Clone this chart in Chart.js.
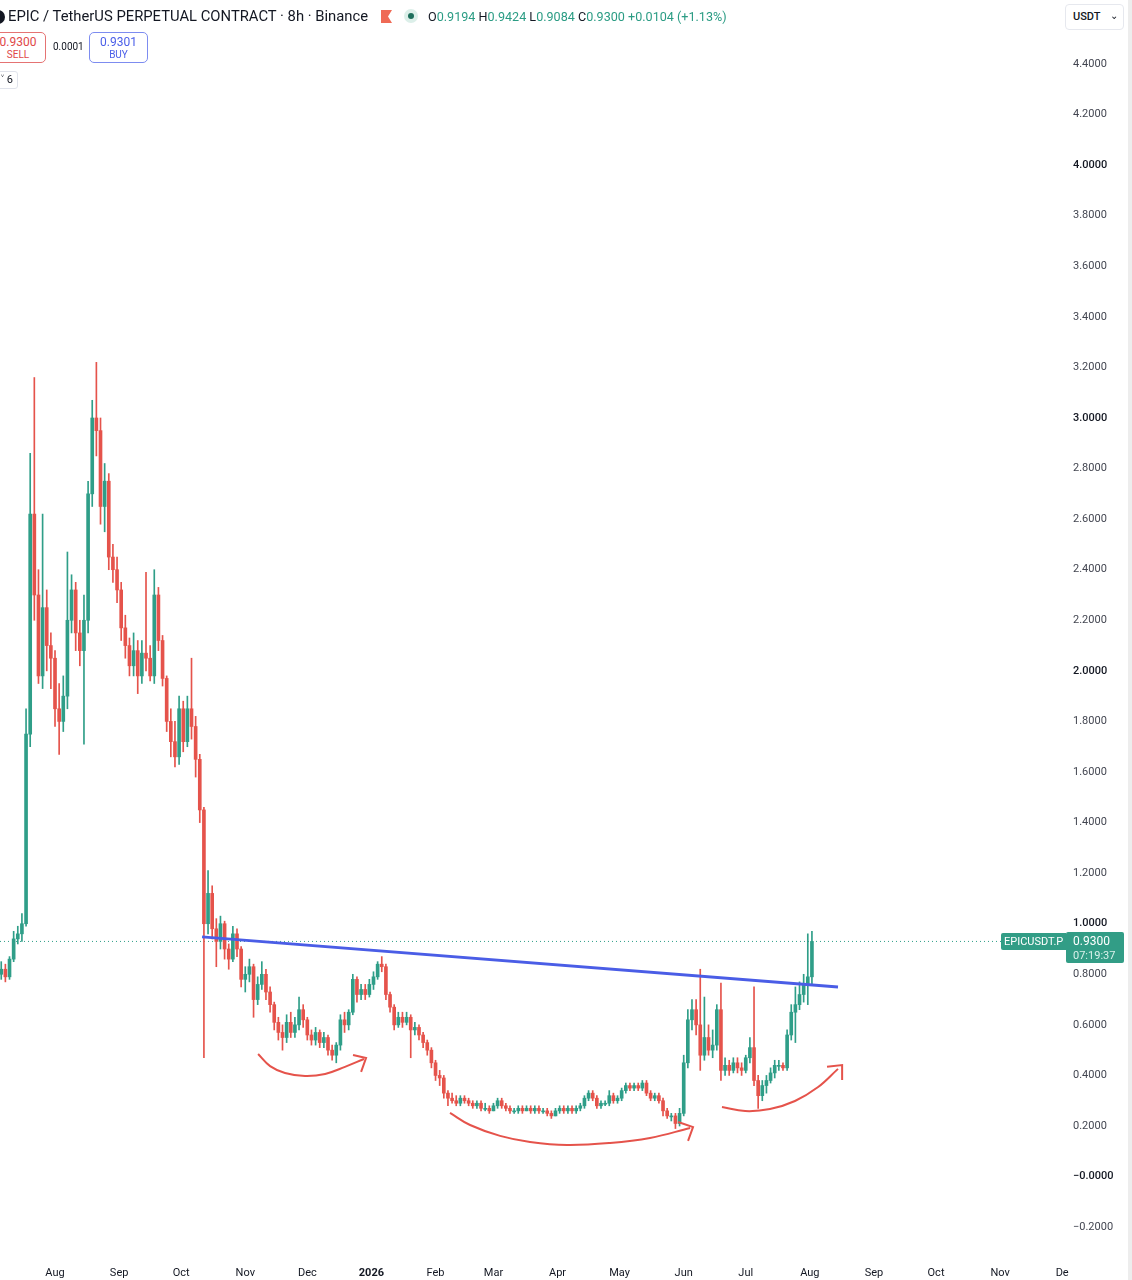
<!DOCTYPE html>
<html>
<head>
<meta charset="utf-8">
<script src="https://cdn.jsdelivr.net/npm/chart.js@4.4.1/dist/chart.umd.min.js"></script>
<style>
  html, body { margin:0; padding:0; background:#fff; }
  body { width:1132px; height:1280px; overflow:hidden; font-family: Roboto, "Noto Sans", sans-serif; color:#131722; }
  #wrap { position:relative; width:1132px; height:1280px; overflow:hidden; }
  #c { position:absolute; left:0; top:0; }
  .ov { position:absolute; white-space:nowrap; }
  .box { position:absolute; box-sizing:border-box; border-radius:5px; background:#fff; text-align:center; }
</style>
</head>
<body>
<div id="wrap">
  <canvas id="c" width="1132" height="1280"></canvas>

  <!-- header legend -->
  <div class="ov" style="left:-9px;top:10px;width:14px;height:14px;border-radius:50%;background:#131722"></div>
  <div class="ov" style="left:8px;top:7px;font-size:14.8px;line-height:18px">EPIC / TetherUS PERPETUAL CONTRACT · 8h · Binance</div>
  <svg class="ov" style="left:381px;top:10px" width="11" height="13"><path d="M0 0 H11 L7 6.5 L11 13 H0 Z" fill="#ef6a55"/></svg>
  <div class="ov" style="left:404px;top:9px;width:14px;height:14px;border-radius:50%;background:#dcefe9"></div>
  <div class="ov" style="left:408px;top:13px;width:6px;height:6px;border-radius:50%;background:#1e6f5c"></div>
  <div class="ov" style="left:428px;top:9px;font-size:12.6px;line-height:16px;color:#2b9c84">
    <span style="color:#131722">O</span>0.9194 <span style="color:#131722">H</span>0.9424 <span style="color:#131722">L</span>0.9084 <span style="color:#131722">C</span>0.9300 +0.0104 (+1.13%)
  </div>

  <div class="box" style="left:-10px;top:32px;width:56px;height:31px;border:1px solid #e57373;color:#e04848">
    <div style="font-size:12px;line-height:14px;margin-top:2px">0.9300</div>
    <div style="font-size:10px;line-height:12px">SELL</div>
  </div>
  <div class="ov" style="left:53px;top:41px;font-size:10px;line-height:12px">0.0001</div>
  <div class="box" style="left:89px;top:32px;width:59px;height:31px;border:1px solid #7d8cf0;color:#4a5ee8">
    <div style="font-size:12px;line-height:14px;margin-top:2px">0.9301</div>
    <div style="font-size:10px;line-height:12px">BUY</div>
  </div>
  <div class="box" style="left:-10px;top:71px;width:28px;height:18px;border:1px solid #e0e3eb;border-radius:3px;font-size:11px;line-height:16px;text-align:right;padding-right:4px">˅ 6</div>

  <div class="box" style="left:1065px;top:4px;width:59px;height:26px;border:1px solid #e6e8ee;border-radius:4px;font-size:11px;line-height:24px;text-align:left;padding-left:7px;font-weight:500">USDT<span style="position:absolute;left:44px;top:-1px;font-size:10px">⌄</span></div>

  <div class="ov" style="left:1128px;top:0;width:4px;height:1280px;background:#ededed"></div>
</div>

<script>
// ---- data (8h chart, read as 2-day candles) ----
// x axis: days counted from 1 Aug 2025
const firstDay = -26;
const stepDays = 2;

const opens = [
  0.80,0.82,0.79,0.86,0.94,0.96,1.00,1.75,2.62,2.30, 1.98,2.25,2.10,2.05,1.85,1.80,1.90,2.20,2.32,2.15,
  2.08,2.20,2.70,3.00,2.95,2.65,2.75,2.45,2.40,2.32, 2.17,2.10,2.02,2.08,1.98,2.07,2.05,1.98,2.30,2.12,
  1.97,1.80,1.72,1.66,1.85,1.72,1.85,1.78,1.65,1.45, 1.00,1.12,0.98,0.93,1.00,0.90,0.86,0.96,0.90,0.78,
  0.80,0.83,0.70,0.76,0.80,0.73,0.68,0.61,0.57,0.55, 0.61,0.57,0.60,0.66,0.62,0.56,0.54,0.57,0.53,0.55,
  0.50,0.48,0.52,0.62,0.60,0.65,0.78,0.72,0.74,0.72, 0.76,0.79,0.84,0.83,0.72,0.67,0.60,0.63,0.61,0.63,
  0.58,0.59,0.56,0.53,0.50,0.45,0.40,0.39,0.33,0.31, 0.30,0.29,0.31,0.30,0.29,0.28,0.29,0.27,0.27,0.26,
  0.28,0.30,0.28,0.27,0.26,0.26,0.27,0.26,0.27,0.26, 0.27,0.26,0.26,0.25,0.24,0.26,0.27,0.26,0.27,0.26,
  0.27,0.28,0.31,0.33,0.31,0.28,0.29,0.29,0.32,0.30, 0.31,0.34,0.36,0.35,0.36,0.35,0.37,0.33,0.31,0.32,
  0.30,0.26,0.24,0.24,0.21,0.25,0.45,0.62,0.66,0.60, 0.48,0.55,0.50,0.52,0.66,0.42,0.44,0.42,0.45,0.43,
  0.42,0.47,0.51,0.38,0.32,0.36,0.38,0.41,0.44,0.44, 0.43,0.56,0.65,0.68,0.72,0.76,0.79
];
const highs = [
  0.85,0.84,0.87,0.97,0.99,1.04,1.85,2.86,3.16,2.40, 2.62,2.32,2.15,2.08,1.95,1.98,2.47,2.38,2.35,2.20,
  2.30,2.75,3.07,3.22,3.00,2.82,2.78,2.50,2.45,2.35, 2.22,2.13,2.15,2.12,2.12,2.39,2.10,2.40,2.33,2.14,
  1.98,1.85,1.80,1.90,1.88,1.90,2.05,1.82,1.67,1.46, 1.21,1.15,1.02,1.03,1.01,0.92,0.99,0.98,0.91,0.83,
  0.86,0.84,0.79,0.85,0.82,0.75,0.69,0.63,0.60,0.64, 0.65,0.63,0.71,0.68,0.63,0.58,0.59,0.58,0.57,0.56,
  0.52,0.53,0.64,0.65,0.66,0.80,0.79,0.76,0.76,0.78, 0.81,0.85,0.87,0.84,0.73,0.68,0.65,0.65,0.65,0.64,
  0.61,0.60,0.57,0.54,0.51,0.46,0.42,0.40,0.34,0.33, 0.32,0.32,0.32,0.31,0.30,0.30,0.30,0.29,0.28,0.29,
  0.31,0.31,0.29,0.28,0.27,0.28,0.28,0.28,0.28,0.28, 0.28,0.27,0.27,0.26,0.27,0.28,0.28,0.28,0.28,0.28,
  0.29,0.32,0.34,0.34,0.32,0.30,0.30,0.34,0.33,0.32, 0.35,0.37,0.37,0.37,0.37,0.38,0.38,0.34,0.33,0.33,
  0.31,0.27,0.25,0.25,0.27,0.48,0.66,0.70,0.70,0.82, 0.71,0.60,0.58,0.68,0.765,0.47,0.46,0.47,0.47,0.45,
  0.48,0.55,0.75,0.40,0.38,0.40,0.43,0.46,0.46,0.45, 0.58,0.68,0.75,0.77,0.80,0.96,0.97
];
const lows = [
  0.78,0.77,0.78,0.85,0.92,0.93,0.99,1.70,2.20,1.95, 1.93,2.00,1.93,1.78,1.67,1.76,1.85,2.15,2.08,2.02,
  1.71,2.15,2.65,2.85,2.58,2.55,2.40,2.35,2.27,2.12, 2.05,1.98,1.98,1.91,1.95,2.00,1.96,1.95,2.08,1.94,
  1.76,1.66,1.62,1.63,1.68,1.70,1.73,1.58,1.40,0.47, 0.96,0.94,0.83,0.90,0.86,0.82,0.85,0.87,0.75,0.73,
  0.77,0.63,0.68,0.74,0.70,0.65,0.58,0.54,0.50,0.53, 0.55,0.55,0.58,0.59,0.54,0.52,0.52,0.51,0.51,0.48,
  0.46,0.45,0.50,0.57,0.58,0.64,0.69,0.70,0.70,0.71, 0.74,0.78,0.81,0.70,0.65,0.58,0.59,0.59,0.60,0.47,
  0.56,0.54,0.51,0.48,0.43,0.38,0.36,0.31,0.28,0.29, 0.28,0.28,0.29,0.28,0.27,0.27,0.26,0.26,0.25,0.26,
  0.27,0.27,0.26,0.25,0.25,0.25,0.25,0.26,0.25,0.25, 0.25,0.25,0.24,0.23,0.24,0.25,0.25,0.25,0.25,0.25,
  0.26,0.27,0.30,0.30,0.27,0.27,0.28,0.28,0.29,0.29, 0.30,0.33,0.34,0.34,0.34,0.34,0.32,0.30,0.30,0.29,
  0.24,0.23,0.22,0.19,0.20,0.24,0.43,0.58,0.56,0.42, 0.46,0.48,0.47,0.50,0.38,0.40,0.40,0.41,0.41,0.40,
  0.41,0.45,0.36,0.27,0.30,0.33,0.37,0.39,0.42,0.42, 0.42,0.54,0.53,0.66,0.69,0.68,0.76
];
const closes = [
  0.82,0.79,0.86,0.94,0.96,1.00,1.75,2.62,2.30,1.98, 2.25,2.10,2.05,1.85,1.80,1.90,2.20,2.32,2.15,2.08,
  2.20,2.70,3.00,2.95,2.65,2.75,2.45,2.40,2.32,2.17, 2.10,2.02,2.08,1.98,2.07,2.05,1.98,2.30,2.12,1.97,
  1.80,1.72,1.66,1.85,1.72,1.85,1.78,1.65,1.45,1.00, 1.12,0.98,0.93,1.00,0.90,0.86,0.96,0.90,0.78,0.80,
  0.83,0.70,0.76,0.80,0.73,0.68,0.61,0.57,0.55,0.61, 0.57,0.60,0.66,0.62,0.56,0.54,0.57,0.53,0.55,0.50,
  0.48,0.52,0.62,0.60,0.65,0.78,0.72,0.74,0.72,0.76, 0.79,0.84,0.83,0.72,0.67,0.60,0.63,0.61,0.63,0.58,
  0.59,0.56,0.53,0.50,0.45,0.40,0.39,0.33,0.31,0.30, 0.29,0.31,0.30,0.29,0.28,0.29,0.27,0.27,0.26,0.28,
  0.30,0.28,0.27,0.26,0.26,0.27,0.26,0.27,0.26,0.27, 0.26,0.26,0.25,0.24,0.26,0.27,0.26,0.27,0.26,0.27,
  0.28,0.31,0.33,0.31,0.28,0.29,0.29,0.32,0.30,0.31, 0.34,0.36,0.35,0.36,0.35,0.37,0.33,0.31,0.32,0.30,
  0.26,0.24,0.24,0.21,0.25,0.45,0.62,0.66,0.60,0.48, 0.55,0.50,0.52,0.66,0.42,0.44,0.42,0.45,0.43,0.42,
  0.47,0.51,0.38,0.32,0.36,0.38,0.41,0.44,0.44,0.43, 0.56,0.65,0.68,0.72,0.76,0.79,0.93
];

const monthDays   = [0, 31, 61, 92, 122, 153, 184, 212, 243, 273, 304, 334, 365, 396, 426, 457, 487];
const monthLabels = ['Aug','Sep','Oct','Nov','Dec','2026','Feb','Mar','Apr','May','Jun','Jul','Aug','Sep','Oct','Nov','De'];

const priceTicks = [-0.2,0,0.2,0.4,0.6,0.8,1.0,1.2,1.4,1.6,1.8,2.0,2.2,2.4,2.6,2.8,3.0,3.2,3.4,3.6,3.8,4.0,4.2,4.4];
const priceTickLabels = ['−0.2000','−0.0000','0.2000','0.4000','0.6000','0.8000','1.0000','1.2000','1.4000','1.6000',
  '1.8000','2.0000','2.2000','2.4000','2.6000','2.8000','3.0000','3.2000','3.4000','3.6000','3.8000','4.0000','4.2000','4.4000'];

// drawings (day, price)
const trendX = [71.1, 378.6];
const trendY = [0.948, 0.750];
const arrow1X = [98.2, 104.0, 111.2, 120.9, 130.6, 140.2, 149.4];
const arrow1Y = [0.485, 0.437, 0.410, 0.398, 0.406, 0.434, 0.465];
const head1X = [144.1, 150.4, 148.0];
const head1Y = [0.481, 0.469, 0.414];
const arrow2X = [191.0, 200.7, 215.2, 229.7, 247.6, 268.4, 287.7, 307.1];
const arrow2Y = [0.252, 0.204, 0.161, 0.137, 0.125, 0.133, 0.153, 0.192];
const head2X = [301.3, 308.5, 306.1];
const head2Y = [0.216, 0.196, 0.141];
const arrow3X = [322.5, 333.7, 345.7, 357.8, 369.0, 378.6];
const arrow3Y = [0.275, 0.259, 0.267, 0.299, 0.354, 0.426];
const head3X = [373.3, 380.6, 380.6];
const head3Y = [0.434, 0.441, 0.382];

const xMin = -26.6, xMax = 487.4;
const yMin = -0.318, yMax = 4.653;

// ---- build ----
const UP = '#2f9e88', DOWN = '#e5534b', ARROW = '#e5534b';
const candleDays = closes.map((_, i) => firstDay + i * stepDays);
const candleColors = closes.map((c, i) => c >= opens[i] ? UP : DOWN);
const pts = (xs, ys) => xs.map((x, i) => ({ x, y: ys[i] }));
const lastClose = closes[closes.length - 1];
const isMajor = v => Math.abs(v - Math.round(v)) < 1e-6;

function drawLine(data, color, width, tension, order) {
  return { type:'line', data, borderColor:color, borderWidth:width, pointRadius:0, tension, order, fill:false };
}

const lastPricePlugin = {
  id: 'lastPrice',
  afterDraw(c) {
    const ctx = c.ctx;
    const y = Math.round(c.scales.y.getPixelForValue(lastClose));
    const left = c.chartArea.right;
    ctx.save();
    ctx.fillStyle = '#329d86';
    ctx.beginPath();
    ctx.roundRect(1001, y - 8, left - 1001 + 3, 17, [2, 0, 0, 2]);
    ctx.fill();
    ctx.beginPath();
    ctx.roundRect(left + 3, y - 9, 58, 31, 2);
    ctx.fill();
    ctx.fillStyle = '#fff';
    ctx.font = '11px Roboto, "Noto Sans", sans-serif';
    ctx.textBaseline = 'middle';
    ctx.textAlign = 'left';
    ctx.fillText('EPICUSDT.P', 1004, y + 1);
    ctx.font = '12px Roboto, "Noto Sans", sans-serif';
    ctx.fillText(lastClose.toFixed(4), left + 10, y + 1);
    ctx.fillStyle = '#d9f0ea';
    ctx.font = '11px Roboto, "Noto Sans", sans-serif';
    ctx.fillText('07:19:37', left + 10, y + 15);
    ctx.restore();
  }
};

new Chart(document.getElementById('c'), {
  type: 'bar',
  data: {
    datasets: [
      drawLine(pts(trendX, trendY), '#4a5de6', 3, 0, 0),
      drawLine(pts(arrow1X, arrow1Y), ARROW, 2, 0.4, 1),
      drawLine(pts(head1X, head1Y), ARROW, 2, 0, 1),
      drawLine(pts(arrow2X, arrow2Y), ARROW, 2, 0.4, 1),
      drawLine(pts(head2X, head2Y), ARROW, 2, 0, 1),
      drawLine(pts(arrow3X, arrow3Y), ARROW, 2, 0.4, 1),
      drawLine(pts(head3X, head3Y), ARROW, 2, 0, 1),
      {
        label: 'bodies', order: 2, grouped: false,
        data: candleDays.map((d, i) => ({ x: d, y: [opens[i], closes[i]] })),
        backgroundColor: candleColors, borderWidth: 0, barThickness: 3, minBarLength: 1
      },
      {
        label: 'wicks', order: 3, grouped: false,
        data: candleDays.map((d, i) => ({ x: d, y: [lows[i], highs[i]] })),
        backgroundColor: candleColors, borderWidth: 0, barThickness: 1
      },
      {
        type: 'line', order: 6,
        data: [{ x: xMin, y: lastClose }, { x: xMax, y: lastClose }],
        borderColor: '#2f9e88', borderWidth: 1, borderDash: [1, 3], pointRadius: 0
      }
    ]
  },
  options: {
    responsive: false,
    animation: false,
    layout: { padding: 0 },
    plugins: { legend: { display: false }, tooltip: { enabled: false } },
    scales: {
      x: {
        type: 'linear', min: xMin, max: xMax, offset: false,
        grid: { display: false }, border: { display: false },
        afterBuildTicks: s => { s.ticks = monthDays.map(v => ({ value: v })); },
        afterFit: s => { s.height = 23; s.paddingLeft = 0; },
        ticks: {
          autoSkip: false, maxRotation: 0, padding: 2, color: '#131722',
          font: c => ({ family: 'Roboto, "Noto Sans", sans-serif', size: 11, weight: (c.tick && c.tick.value === 153) ? 'bold' : 'normal' }),
          callback: (v, i) => monthLabels[i]
        }
      },
      y: {
        position: 'right', min: yMin, max: yMax,
        grid: { display: false }, border: { display: false },
        afterBuildTicks: s => { s.ticks = priceTicks.map(v => ({ value: v })); },
        afterFit: s => { s.width = 69; s.paddingTop = 0; s.paddingBottom = 0; },
        ticks: {
          autoSkip: false, padding: 2, crossAlign: 'near',
          color: c => (c.tick && isMajor(c.tick.value)) ? '#131722' : '#434651',
          font: c => ({ family: 'Roboto, "Noto Sans", sans-serif', size: 11,
            weight: (c.tick && isMajor(c.tick.value)) ? '500' : 'normal' }),
          callback: (v, i) => priceTickLabels[i]
        }
      }
    }
  },
  plugins: [lastPricePlugin]
});
</script>
</body>
</html>
